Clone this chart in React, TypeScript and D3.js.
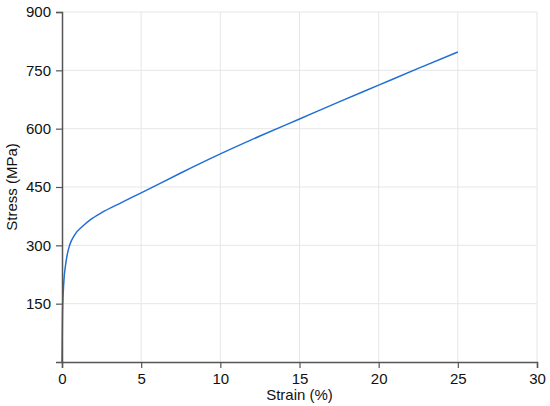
import { useEffect, useRef } from "react";
import * as d3 from "d3";

// strain (%) and stress (MPa)
const strain = [0, 0.03, 0.08, 0.13, 0.21, 0.34, 0.48, 0.8, 1.3, 1.8, 2.5, 3.75, 5, 7.5, 10, 12.5, 15, 17.5, 20, 22.5, 25];
const stress = [0, 120, 180, 215, 245, 278, 300, 327, 349, 366, 384, 410, 435, 486, 535, 581, 625, 669, 712, 755, 797];

const xTicks = [0, 5, 10, 15, 20, 25, 30];
const yTicks = [150, 300, 450, 600, 750, 900];

const W = 550;
const H = 406;
const margin = { top: 12, right: 13, bottom: 44, left: 62 };

export default function App() {
  const svgRef = useRef<SVGSVGElement>(null);

  useEffect(() => {
    const svg = d3.select(svgRef.current);
    svg.selectAll("*").remove();

    const iw = W - margin.left - margin.right;
    const ih = H - margin.top - margin.bottom;

    const x = d3.scaleLinear().domain([0, 30]).range([0, iw]);
    const y = d3.scaleLinear().domain([0, 900]).range([ih, 0]);

    const g = svg.append("g").attr("transform", `translate(${margin.left},${margin.top})`);

    // grid
    g.append("g")
      .selectAll("line")
      .data(xTicks.slice(1))
      .enter()
      .append("line")
      .attr("x1", (d) => x(d))
      .attr("x2", (d) => x(d))
      .attr("y1", 0)
      .attr("y2", ih)
      .attr("stroke", "#e6e6e6")
      .attr("stroke-width", 1);
    g.append("g")
      .selectAll("line")
      .data(yTicks)
      .enter()
      .append("line")
      .attr("x1", 0)
      .attr("x2", iw)
      .attr("y1", (d) => y(d))
      .attr("y2", (d) => y(d))
      .attr("stroke", "#e6e6e6")
      .attr("stroke-width", 1);

    const pts = strain.map((s, i) => [s, stress[i]] as [number, number]);
    const line = d3
      .line<[number, number]>()
      .x((d) => x(d[0]))
      .y((d) => y(d[1]))
      .curve(d3.curveMonotoneX);

    g.append("path")
      .datum(pts)
      .attr("fill", "none")
      .attr("stroke", "#1f6fd6")
      .attr("stroke-width", 1.5)
      .attr("d", line);

    const font = "'Liberation Sans', Arial, sans-serif";

    const xAxis = g
      .append("g")
      .attr("transform", `translate(0,${ih})`)
      .call(d3.axisBottom(x).tickValues(xTicks).tickSize(6).tickPadding(5));
    const yAxis = g
      .append("g")
      .call(d3.axisLeft(y).tickValues(yTicks).tickSize(6).tickPadding(5));

    [xAxis, yAxis].forEach((a) => {
      a.select(".domain").attr("stroke", "#555").attr("stroke-width", 1.5);
      a.selectAll(".tick line").attr("stroke", "#555").attr("stroke-width", 1.2);
      a.selectAll(".tick text")
        .attr("fill", "#111")
        .style("font-family", font)
        .style("font-size", "15px");
    });

    svg
      .append("text")
      .attr("x", margin.left + iw / 2)
      .attr("y", 400)
      .attr("text-anchor", "middle")
      .style("font-family", font)
      .style("font-size", "15px")
      .attr("fill", "#111")
      .text("Strain (%)");

    svg
      .append("text")
      .attr("transform", `translate(16.5,${margin.top + ih / 2}) rotate(-90)`)
      .attr("text-anchor", "middle")
      .style("font-family", font)
      .style("font-size", "15px")
      .attr("fill", "#111")
      .text("Stress (MPa)");
  }, []);

  return (
    <div style={{ position: "absolute", left: 0, top: 0 }}>
      <svg ref={svgRef} width={W} height={H} style={{ display: "block", background: "#fff" }} />
    </div>
  );
}
